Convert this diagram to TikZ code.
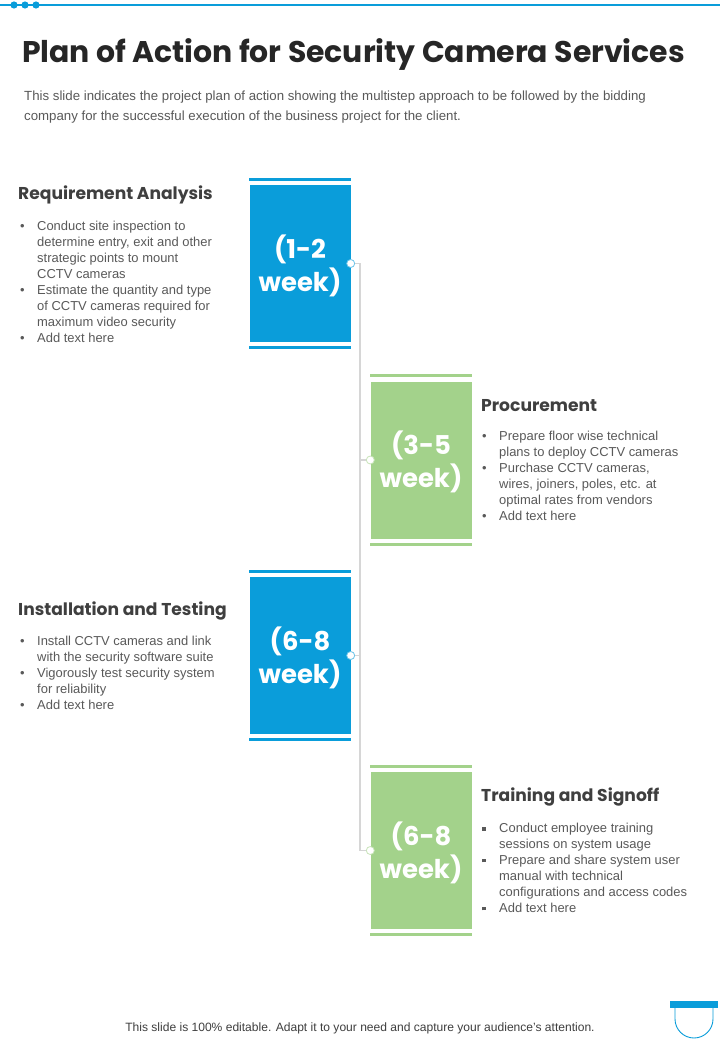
\documentclass[tikz,border=0pt]{standalone}
\usepackage{fontspec}
\setmainfont{Liberation Sans}
\newfontfamily\headfont{Poppins}
\definecolor{blueC}{HTML}{0A9DDA}
\definecolor{greenC}{HTML}{A3D28B}
\definecolor{lineC}{HTML}{D6D6D6}
\definecolor{headC}{HTML}{262626}
\definecolor{subC}{HTML}{3F3F3F}
\definecolor{bodyC}{HTML}{595959}
\newcommand{\bul}{\makebox[17bp][l]{\textbullet}}
\newcommand{\sqb}{\makebox[17bp][l]{\rule[2bp]{3.5bp}{3.5bp}}}
\newcommand{\ind}{\hspace*{17bp}}
\tikzset{
  weekbox/.style={fill=#1, minimum width=101bp, minimum height=157bp, inner sep=0pt},
  weektext/.style={inner sep=0pt, text=white, align=center, font=\headfont\bfseries\fontsize{26}{33}\selectfont},
  dotnode/.style={circle, draw=#1!60!white, fill=white, line width=0.8bp, minimum size=8bp, inner sep=0pt},
  spine/.style={draw=lineC, line width=1.5bp},
  head/.style={anchor=base west, inner sep=0pt, text=subC, font=\headfont\bfseries\fontsize{17.2}{20}\selectfont},
  body/.style={anchor=north west, inner sep=0pt, text=bodyC, align=left, font=\fontsize{13}{16}\selectfont}
}
\begin{document}
\begin{tikzpicture}[x=1bp,y=-1bp]
\useasboundingbox (0,0) rectangle (720,1040);
\fill[white] (0,0) rectangle (720,1040);
\draw[blueC, line width=2.5bp] (0,5) -- (720,5);
\foreach \d in {14,25,36} \fill[blueC] (\d,5) circle (3.6);
\node[anchor=base west, inner sep=0pt, text=headC, font=\headfont\bfseries\fontsize{30}{36}\selectfont] (title) at (22,62) {Plan of Action for Security Camera Services};
\node[anchor=north west, inner sep=0pt, text=bodyC, align=left, font=\fontsize{13.3}{19.5}\selectfont] (subtitle) at (24,91) {This slide indicates the project plan of action showing the multistep approach to be followed by the bidding\\company for the successful execution of the business project for the client.};
\foreach \i/\x/\y/\col/\txt/\side in {1/300/263.5/blueC/1-2/east, 2/421/460/greenC/3-5/west, 3/300/655.5/blueC/6-8/east, 4/421/850.5/greenC/6-8/west}{
  \node[weekbox=\col] (b\i) at (\x,\y) {};
  \node[weektext] (w\i) at (\x,\y+2) {(\txt\\week)};
  \fill[\col] (b\i.north west) ++(0,-7) rectangle ++(102,3);
  \fill[\col] (b\i.south west) ++(0,4) rectangle ++(102,3);
  \node[dotnode=\col] (c\i) at (b\i.\side) {};
}
\coordinate (s1) at (360,263.5);
\coordinate (s4) at (360,850.5);
\draw[spine] (c1.east) -- (s1) -- (s4) -- (c4.west);
\draw[spine] (c2.west) -- (c2 -| s1);
\draw[spine] (c3.east) -- (c3 -| s1);
\node[head] (h1) at (18,199) {Requirement Analysis};
\node[body] (t1) at (20,221) {\bul Conduct site inspection to\\\ind determine entry, exit and other\\\ind strategic points to mount\\\ind CCTV cameras\\\bul Estimate the quantity and type\\\ind of CCTV cameras required for\\\ind maximum video security\\\bul Add text here};
\node[head] (h2) at (481,411) {Procurement};
\node[body] (t2) at (482,431) {\bul Prepare floor wise technical\\\ind plans to deploy CCTV cameras\\\bul Purchase CCTV cameras,\\\ind wires, joiners, poles, etc. at\\\ind optimal rates from vendors\\\bul Add text here};
\node[head] (h3) at (18,615) {Installation and Testing};
\node[body] (t3) at (20,636) {\bul Install CCTV cameras and link\\\ind with the security software suite\\\bul Vigorously test security system\\\ind for reliability\\\bul Add text here};
\node[head] (h4) at (481,801) {Training and Signoff};
\node[body] (t4) at (482,823) {\sqb Conduct employee training\\\ind sessions on system usage\\\sqb Prepare and share system user\\\ind manual with technical\\\ind configurations and access codes\\\sqb Add text here};
\node[anchor=base, inner sep=0pt, text=subC, font=\fontsize{12.1}{14}\selectfont] (footer) at (360,1031) {This slide is 100\% editable. Adapt it to your need and capture your audience's attention.};
\fill[blueC] (670,1001) rectangle (718,1008);
\draw[blueC, line width=0.9bp] (675,1008) -- (675,1019) arc (180:0:19) -- (713,1008);
\end{tikzpicture}
\end{document}
